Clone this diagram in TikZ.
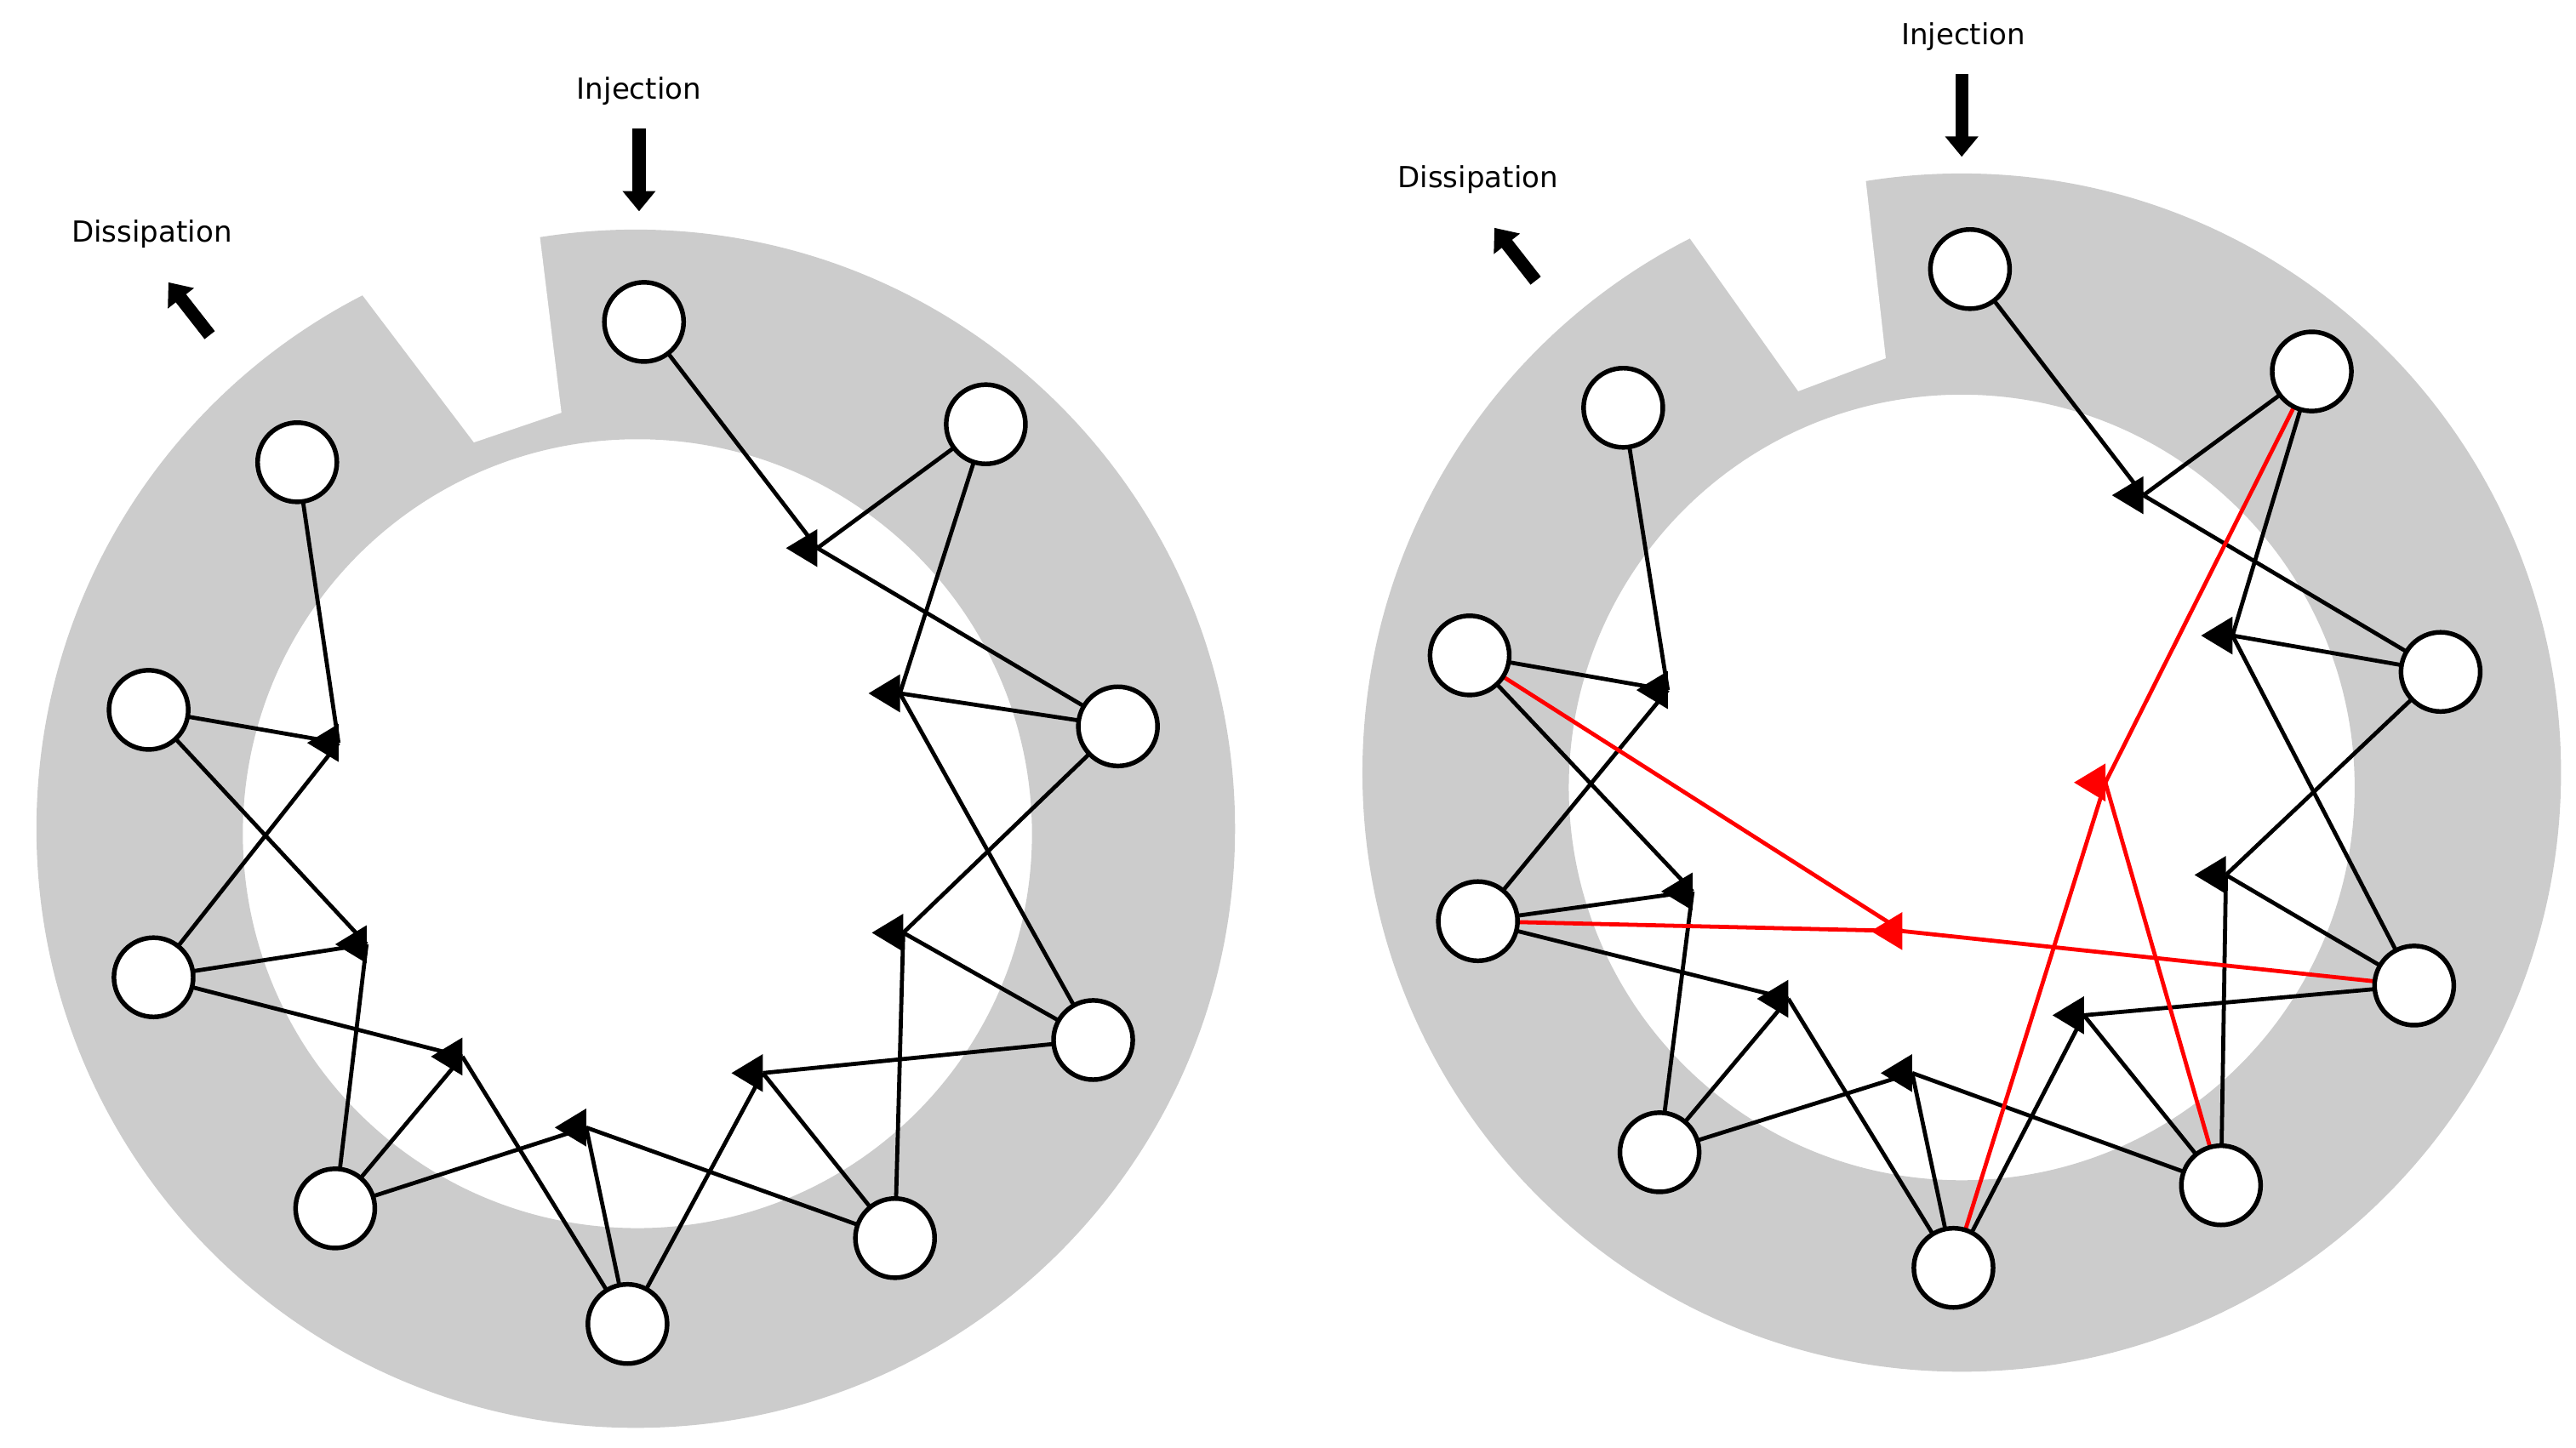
\documentclass[tikz,border=0pt]{standalone}
\usepackage{fontspec}
\setmainfont{DejaVu Sans}
\usetikzlibrary{arrows.meta}
\definecolor{ring}{HTML}{CCCCCC}
\tikzset{
  st/.style={circle,draw=black,fill=white,line width=1.6pt,minimum size=0.96cm,inner sep=0pt},
  ln/.style={line width=1.4pt,black},
  rl/.style={line width=1.4pt,red},
  big/.style={line width=4.5pt,-{Triangle[width=11pt,length=7pt]}},
  lab/.style={font=\fontsize{10}{12}\selectfont}
}
\newcommand{\hubmark}[2]{\fill[#2] ([yshift=0.23cm]#1) -- ([xshift=-0.38cm]#1) -- ([yshift=-0.23cm]#1) -- cycle;}
\begin{document}
\begin{tikzpicture}[x=0.02cm,y=-0.02cm]
\useasboundingbox (0,0) rectangle (1560,877);
% rings
\fill[ring,even odd rule] (385,502) circle (7.26cm) (386,505) circle (4.78cm);
\fill[white] (287,268) -- (150,87) -- (318,70) -- (340,250) -- cycle;
\fill[ring,even odd rule] (1188,468) circle (7.26cm) (1188,477) circle (4.76cm);
\fill[white] (1089,237) -- (960,55) -- (1121,30) -- (1142,217) -- cycle;
% labels and arrows
\node[lab] (injL) at (387,55) {Injection};
\node[lab] (disL) at (92,142) {Dissipation};
\node[lab] (injR) at (1189,22) {Injection};
\node[lab] (disR) at (895,109) {Dissipation};
\coordinate (iLa) at (387,78); \coordinate (iLb) at (387,128);
\coordinate (dLa) at (127,203); \coordinate (dLb) at (102,171);
\coordinate (iRa) at (1188,45); \coordinate (iRb) at (1188,95);
\coordinate (dRa) at (930,170); \coordinate (dRb) at (905,138);
\draw[big] (iLa) -- (iLb);
\draw[big] (dLa) -- (dLb);
\draw[big] (iRa) -- (iRb);
\draw[big] (dRa) -- (dRb);
% left
\coordinate (Lc1) at (390,195); \coordinate (Lc2) at (597,257);
\coordinate (Lc3) at (677,440); \coordinate (Lc4) at (662,630);
\coordinate (Lc5) at (542,750); \coordinate (Lc6) at (380,802);
\coordinate (Lc7) at (203,732); \coordinate (Lc8) at (93,592);
\coordinate (Lc9) at (90,430); \coordinate (Lc10) at (180,280);
\coordinate (TA1) at (495,332); \coordinate (TA2) at (545,420);
\coordinate (TA3) at (547,565); \coordinate (TA4) at (462,650);
\coordinate (TA5) at (355,683); \coordinate (TA6) at (280,640);
\coordinate (TA7) at (222,572); \coordinate (TA8) at (205,450);
\foreach \k/\a/\b/\c in {1/1/2/3,2/2/3/4,3/3/4/5,4/4/5/6,5/5/6/7,6/6/7/8,7/7/8/9,8/8/9/10}{
  \draw[ln] (Lc\a) -- (TA\k);
  \draw[ln] (Lc\b) -- (TA\k);
  \draw[ln] (Lc\c) -- (TA\k);
  \hubmark{TA\k}{black}
}
\foreach \n in {1,...,10} \node[st] (L\n) at (Lc\n) {};
% right
\coordinate (Rc1) at (1193,163); \coordinate (Rc2) at (1400,225);
\coordinate (Rc3) at (1478,407); \coordinate (Rc4) at (1462,597);
\coordinate (Rc5) at (1345,718); \coordinate (Rc6) at (1183,768);
\coordinate (Rc7) at (1005,698); \coordinate (Rc8) at (895,558);
\coordinate (Rc9) at (890,397); \coordinate (Rc10) at (983,247);
\coordinate (HB1) at (1298,300); \coordinate (HB2) at (1352,385);
\coordinate (HB3) at (1348,530); \coordinate (HB4) at (1262,615);
\coordinate (HB5) at (1158,650); \coordinate (HB6) at (1083,605);
\coordinate (HB7) at (1025,540); \coordinate (HB8) at (1010,418);
\foreach \k/\a/\b/\c in {1/1/2/3,2/2/3/4,3/3/4/5,4/4/5/6,5/5/6/7,6/6/7/8,7/7/8/9,8/8/9/10}{
  \draw[ln] (Rc\a) -- (HB\k);
  \draw[ln] (Rc\b) -- (HB\k);
  \draw[ln] (Rc\c) -- (HB\k);
  \hubmark{HB\k}{black}
}
\coordinate (HR1) at (1152,564);
\coordinate (HR2) at (1275,474);
\foreach \a in {4,8,9} \draw[rl] (Rc\a) -- (HR1);
\foreach \a in {2,5,6} \draw[rl] (Rc\a) -- (HR2);
\hubmark{HR1}{red}
\hubmark{HR2}{red}
\foreach \n in {1,...,10} \node[st] (R\n) at (Rc\n) {};
\end{tikzpicture}
\end{document}
